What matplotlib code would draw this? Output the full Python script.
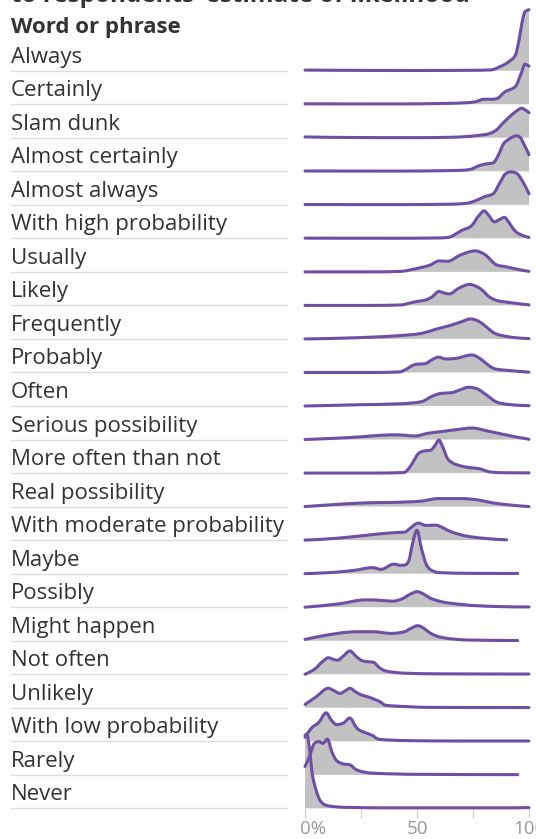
import numpy as np
import matplotlib.pyplot as plt
from matplotlib.path import Path
from matplotlib.patches import PathPatch
from matplotlib.transforms import blended_transform_factory, ScaledTranslation

plt.rcParams['font.family'] = ['Open Sans', 'DejaVu Sans']

# --- data: (estimate %, relative density) ---
phrases = ["Always", "Certainly", "Slam dunk", "Almost certainly", "Almost always",
           "With high probability", "Usually", "Likely", "Frequently", "Probably",
           "Often", "Serious possibility", "More often than not", "Real possibility",
           "With moderate probability", "Maybe", "Possibly", "Might happen",
           "Not often", "Unlikely", "With low probability", "Rarely", "Never"]

always = [(0, 0.6), (25, 0.3), (50, 0.2), (75, 0.4), (83, 0.8), (87, 4), (91, 9), (94, 16),
          (95.5, 30), (96.8, 47), (98.2, 59), (100, 61)]
certainly = [(0, 0.4), (40, 0.3), (62, 0.8), (72, 1.5), (76, 2.5), (80, 5), (84, 5), (86, 6),
             (89, 12), (94, 18), (96.7, 32), (98.2, 40), (100, 38)]
slam_dunk = [(0, 0.8), (25, 0.2), (50, 0.1), (65, 0.5), (72, 1.2), (78, 2.5), (82, 4), (85, 7),
             (89, 16), (94, 26), (96.7, 29.5), (98.2, 28), (100, 25)]
almost_certainly = [(0, 0.3), (40, 0.2), (62, 0.6), (70, 1), (74, 2), (77, 5), (80, 7), (84, 8.5),
                    (86.3, 16), (88.5, 27), (91, 32), (94.5, 35.5), (96, 34), (98, 26), (100, 16.5)]
almost_always = [(0, 0.3), (40, 0.2), (65, 0.6), (72, 1.5), (76, 4), (80, 8), (84, 11), (87, 22),
                 (89.5, 31), (92, 33), (94.5, 31.5), (97.5, 22), (100, 11)]
with_high_prob = [(0, 0.2), (40, 0.1), (60, 0.4), (64, 1), (70, 8), (74.5, 13), (77.5, 22.5),
                  (80, 27.5), (82, 23), (84.5, 16.5), (87, 19), (89, 21), (91, 16), (93.5, 8),
                  (97, 3), (100, 1)]
usually = [(0, 0), (30, 0), (43, 0.5), (47, 2), (52, 4.5), (55.5, 6.5), (60, 11), (63.5, 10.5),
           (69.5, 17), (76, 21), (80.5, 17), (85.5, 7), (90, 5), (95, 2.5), (100, 0.5)]
likely = [(0, 0), (30, 0), (43, 0.5), (47, 2.5), (50, 4), (54, 5.5), (57, 9), (59.7, 14),
          (62, 12.5), (64.5, 11.5), (68.5, 17), (73.5, 21), (76.5, 19), (79, 15.5), (82, 9),
          (85.5, 5), (91, 3), (100, 0.5)]
frequently = [(0, 0), (20, 1), (40, 3), (46, 4), (52, 5.5), (58, 9.5), (64, 13), (69, 16.5),
              (74, 20), (78, 17), (81, 12), (84, 6.5), (90, 2.5), (100, 0.3)]
probably = [(0, 0), (30, 0), (42, 0.5), (45, 3), (48, 7), (50, 8.3), (53.5, 8.7), (56.5, 12.5),
            (59.5, 15.3), (63, 13.5), (67, 14), (74.5, 17.5), (79, 12.5), (82, 7), (85, 3.5),
            (91, 2), (100, 0.3)]
often = [(0, 0), (25, 1.3), (43, 2.3), (52, 4.3), (56.5, 9.5), (61, 12.7), (65.5, 13.3), (69, 16),
         (73, 18.7), (76.5, 17.5), (81, 11), (85.5, 4), (91, 1.5), (100, 0.3)]
serious_possibility = [(0, 0), (20, 2), (40, 4.7), (45, 4.2), (49, 3.5), (55, 6.3), (61, 8),
                       (68, 10), (74.5, 11.5), (82, 8.3), (91, 4), (100, 0.3)]
more_often_than_not = [(0, 0), (30, 0), (44, 0.5), (46.5, 5), (48.5, 12), (50.6, 19.5), (53, 22),
                       (56, 22.7), (58, 27.5), (59.8, 33), (61.5, 26), (63.5, 15), (66, 10),
                       (69, 7.5), (74, 5.3), (77.5, 4.5), (83, 1), (90, 0.3), (100, 0.2)]
real_possibility = [(0, 0), (25, 3.5), (46, 4.7), (52, 5.5), (59.5, 8), (70, 8), (76, 7), (85, 3.3),
                    (92, 1.5), (100, 0)]
with_moderate_prob = [(0, 0), (15, 2), (28, 5), (40, 7.5), (44.5, 8), (47, 12), (50.5, 17),
                      (54, 14.7), (58.5, 15), (61, 13), (64, 9.5), (71.5, 4.3), (79, 2), (90, 0.3)]
maybe = [(0, 0), (15, 1.7), (22, 3.3), (30, 6), (34, 4.3), (39.5, 9.5), (43, 8.3), (45, 9),
         (46.5, 14), (48, 30), (50, 43.3), (52, 25), (54, 10), (56, 4), (60, 1), (75, 0.3), (95, 0.2)]
possibly = [(0, 0), (15, 3.3), (27, 7.3), (33, 7), (39, 6), (43.5, 8.5), (47, 13), (50, 15.5),
            (53, 13), (55.5, 9.5), (60, 6), (70, 2.7), (85, 0.7), (100, 0.2)]
might_happen = [(0, 1.3), (10, 5.7), (19, 8.5), (25, 9), (30, 9), (38.7, 7.3), (44.5, 9), (47, 12),
                (50.3, 15), (53, 12.5), (55, 9), (61, 3.3), (73, 0.7), (95, 0.2)]
not_often = [(0, 0), (4.5, 5.5), (8, 13), (10.4, 16.5), (12.5, 15), (14.5, 14), (17, 18),
             (20, 23.3), (23, 17.5), (25.5, 13.5), (28, 12.5), (30.5, 12), (33, 7), (36, 3.3),
             (45, 1), (60, 0.4), (100, 0.2)]
unlikely = [(0, 3.3), (5, 11), (10.4, 19.5), (13, 17), (15.6, 14.3), (18, 17), (20.1, 19.5),
            (22.5, 16), (25, 13), (28, 11), (31, 8.5), (33.5, 6), (36, 2.5), (45, 1.2), (55, 0.4),
            (100, 0.2)]
with_low_prob = [(0, 4), (3, 13.5), (6, 18.5), (9.5, 28.5), (11.5, 22), (14, 16.7), (17, 18),
                 (20, 23.3), (23, 13.5), (27, 8.5), (30, 6), (33, 2), (45, 0.7), (70, 0.3), (100, 0.3)]
rarely = [(0, 8.3), (2, 18.3), (4.2, 31.5), (6, 33.3), (8, 31.5), (10, 35.7), (12, 23), (14, 14.5),
          (17, 11), (20, 10), (23, 5), (30, 1.7), (50, 0.5), (95, 0.2)]
never = [(0, 73), (0.8, 74.3), (2, 60), (3, 38.5), (5, 18), (7, 7), (10, 2.7), (18, 1), (40, 0.5),
         (90, 0.5), (100, 0.8)]

curves = [always, certainly, slam_dunk, almost_certainly, almost_always, with_high_prob, usually,
          likely, frequently, probably, often, serious_possibility, more_often_than_not,
          real_possibility, with_moderate_prob, maybe, possibly, might_happen, not_often,
          unlikely, with_low_prob, rarely, never]

x_ticks = [0, 25, 50, 75, 100]
x_ticklabels = ["0%", "", "50", "", "100"]

# --- style ---
W, H = 536, 839
ROW = 33.53          # pixel spacing between ridge baselines
TOP_BASE = 70.7      # pixel position of the first baseline
LINE_C = "#6d4fa6"
FILL_C = "#c2c2c2"
TEXT_C = "#333333"


def monotone_bezier(x, y):
    # monotone cubic (like d3.curveMonotoneX) expressed as bezier segments
    x = np.asarray(x, float)
    y = np.asarray(y, float)
    h = np.diff(x)
    s = np.diff(y) / h
    m = np.zeros(len(x))
    for i in range(1, len(x) - 1):
        p = (s[i - 1] * h[i] + s[i] * h[i - 1]) / (h[i - 1] + h[i])
        m[i] = (np.sign(s[i - 1]) + np.sign(s[i])) * min(abs(s[i - 1]), abs(s[i]), 0.5 * abs(p))
    m[0] = (3 * s[0] - m[1]) / 2
    m[-1] = (3 * s[-1] - m[-2]) / 2
    verts = [(x[0], y[0])]
    codes = [Path.MOVETO]
    for i in range(len(x) - 1):
        d = h[i] / 3
        verts += [(x[i] + d, y[i] + m[i] * d), (x[i + 1] - d, y[i + 1] - m[i + 1] * d),
                  (x[i + 1], y[i + 1])]
        codes += [Path.CURVE4] * 3
    return verts, codes


fig = plt.figure(figsize=(W / 100, H / 100), dpi=100)
bottom_px = TOP_BASE + ROW * (len(phrases) - 1)
ax = fig.add_axes([305 / W, (H - bottom_px) / H, 224 / W, bottom_px / H])
ax.set_xlim(0, 100)
ax.set_ylim(-(len(phrases) - 1), TOP_BASE / ROW)

for i, (name, pts) in enumerate(zip(phrases, curves)):
    base = -i
    xs = [p[0] for p in pts]
    ys = [base + p[1] / ROW for p in pts]
    verts, codes = monotone_bezier(xs, ys)
    fill = Path(verts + [(xs[-1], base), (xs[0], base), (xs[0], base)],
                codes + [Path.LINETO, Path.LINETO, Path.CLOSEPOLY])
    ax.add_patch(PathPatch(fill, facecolor=FILL_C, edgecolor="none", zorder=1, clip_on=False))
    ax.add_patch(PathPatch(Path(verts, codes), facecolor="none", edgecolor=LINE_C, lw=2.2,
                           capstyle="round", joinstyle="round", zorder=2, clip_on=False))

# labels and separators on the left
tr = blended_transform_factory(fig.transFigure, ax.transData)
for i, name in enumerate(phrases):
    ax.plot([11 / W, 287 / W], [-i, -i], transform=tr, color="#dddddd", lw=1, clip_on=False)
    ax.text(11 / W, -i + 8 / ROW, name, transform=tr, fontsize=16, color=TEXT_C,
            va="baseline", ha="left")

fig.text(11 / W, 1 - 33 / H, "Word or phrase", fontsize=16, fontweight="bold", color=TEXT_C,
         va="baseline", ha="left")
fig.text(11 / W, 1 - 2 / H, "to respondents\u2019 estimate of likelihood", fontsize=17.5,
         fontweight="bold", color=TEXT_C, va="baseline", ha="left")

for sp in ax.spines.values():
    sp.set_visible(False)
ax.set_yticks([])
ax.set_xticks(x_ticks)
ax.set_xticklabels(x_ticklabels)
ax.tick_params(axis="x", direction="out", length=7, width=0.8, color="#cccccc", pad=1.5,
               labelsize=13.5, labelcolor="#999999")
ax.get_xticklabels()[0].set_transform(ax.get_xticklabels()[0].get_transform()
                                      + ScaledTranslation(8 / 100, 0, fig.dpi_scale_trans))

fig.savefig("out.png", dpi=100)
